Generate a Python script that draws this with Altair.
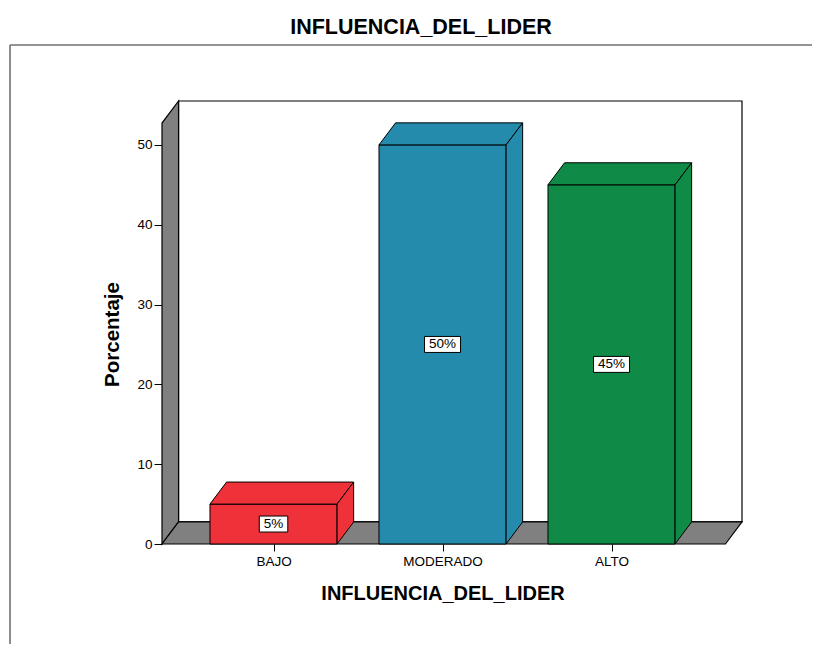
import altair as alt
import pandas as pd

# ---- data ----
categories = ["BAJO", "MODERADO", "ALTO"]
percentages = [5, 50, 45]
pct_labels = ["5%", "50%", "45%"]
front_colors = ["#EF323A", "#248BAC", "#0F8B47"]
dark_colors = ["#931F22", "#17566B", "#09542B"]
y_ticks = [0, 10, 20, 30, 40, 50]
chart_title = "INFLUENCIA_DEL_LIDER"
x_title = "INFLUENCIA_DEL_LIDER"
y_title = "Porcentaje"

# ---- geometry / style (pseudo-3D) ----
BAR_HALF = 0.376
DX = 0.098          # depth offset in x units
DY = 2.76           # depth offset in y units
WALL_LEFT = -0.66
FLOOR_RIGHT = 2.674
WALL_TOP = 52.74
X_MAX = FLOOR_RIGHT + DX
Y_MAX = WALL_TOP + DY
PX_PER_X = 580 / (X_MAX - WALL_LEFT)
PX_PER_Y = 443 / Y_MAX
FONT = "Liberation Sans"
WALL_GRAY = "#808080"
LABEL_SIZE = 13.5

xs = alt.Scale(domain=[WALL_LEFT, X_MAX], nice=False, zero=False)
ys = alt.Scale(domain=[0, Y_MAX], nice=False, zero=False)
col_scale = alt.Scale(domain=categories, range=front_colors)
dark_scale = alt.Scale(domain=categories, range=dark_colors)

label_expr = "[" + ",".join("'%s'" % c for c in categories) + "][datum.value]"

AX_X = alt.Axis(
    values=[0, 1, 2], labelExpr=label_expr, title=x_title, domain=False, grid=False,
    tickSize=7, tickColor="black", labelPadding=3, labelFont=FONT, labelFontSize=LABEL_SIZE,
    labelColor="black", titleFont=FONT, titleFontSize=20, titleFontWeight="bold",
    titleColor="black", titleX=280.5, titleY=49, titleBaseline="middle", titleAlign="center")
AX_Y = alt.Axis(
    values=y_ticks, title=y_title, domain=False, grid=False, tickSize=8, tickColor="black",
    labelPadding=2, labelFont=FONT, labelFontSize=LABEL_SIZE, labelColor="black",
    titleFont=FONT, titleFontSize=20.5, titleFontWeight="bold", titleColor="black",
    titleX=-50, titleY=233, titleAngle=270, titleBaseline="middle", titleAlign="center")

pos = {c: i for i, c in enumerate(categories)}

front = pd.DataFrame({
    "cat": categories,
    "x0": [pos[c] - BAR_HALF for c in categories],
    "x1": [pos[c] + BAR_HALF for c in categories],
    "y0": [0] * len(categories),
    "y1": percentages,
})

top_rows, side_rows = [], []
for c, v in zip(categories, percentages):
    i = pos[c]
    top_rows.append({"cat": c, "yy": v, "xa": i - BAR_HALF, "xb": i + BAR_HALF})
    top_rows.append({"cat": c, "yy": v + DY, "xa": i - BAR_HALF + DX, "xb": i + BAR_HALF + DX})
    side_rows.append({"cat": c, "xx": i + BAR_HALF, "ya": 0, "yb": v})
    side_rows.append({"cat": c, "xx": i + BAR_HALF + DX, "ya": DY, "yb": v + DY})
tops = pd.DataFrame(top_rows)
sides = pd.DataFrame(side_rows)

floor = pd.DataFrame({"yy": [0, DY], "xa": [WALL_LEFT, WALL_LEFT + DX], "xb": [FLOOR_RIGHT, X_MAX]})
lwall = pd.DataFrame({"xx": [WALL_LEFT, WALL_LEFT + DX], "ya": [0, DY], "yb": [WALL_TOP, Y_MAX]})
bwall = pd.DataFrame({"x0": [WALL_LEFT + DX], "x1": [X_MAX], "y0": [DY], "y1": [Y_MAX]})


def text_w(s, size=LABEL_SIZE):
    w = {"%": 0.889}
    return sum(w.get(ch, 0.556) for ch in s) * size


boxes = pd.DataFrame({
    "cat": categories,
    "lab": pct_labels,
    "xc": [pos[c] for c in categories],
    "yc": [v / 2 for v in percentages],
    "bx0": [pos[c] - (text_w(l) + 9) / 2 / PX_PER_X for c, l in zip(categories, pct_labels)],
    "bx1": [pos[c] + (text_w(l) + 9) / 2 / PX_PER_X for c, l in zip(categories, pct_labels)],
    "by0": [v / 2 - 8 / PX_PER_Y for v in percentages],
    "by1": [v / 2 + 8 / PX_PER_Y for v in percentages],
})

back_layer = alt.Chart(bwall).mark_rect(fill="white", stroke="black", strokeWidth=1.2).encode(
    x=alt.X("x0:Q", scale=xs, axis=AX_X), x2="x1:Q",
    y=alt.Y("y0:Q", scale=ys, axis=AX_Y), y2="y1:Q")

lwall_layer = alt.Chart(lwall).mark_area(orient="vertical", fill=WALL_GRAY, stroke="black", strokeWidth=1.2).encode(
    x=alt.X("xx:Q", scale=xs, axis=AX_X),
    y=alt.Y("ya:Q", scale=ys, axis=AX_Y, stack=False), y2="yb:Q")

floor_layer = alt.Chart(floor).mark_area(orient="horizontal", fill=WALL_GRAY, stroke="black", strokeWidth=1.2).encode(
    y=alt.Y("yy:Q", scale=ys, axis=AX_Y),
    x=alt.X("xa:Q", scale=xs, axis=AX_X, stack=False), x2="xb:Q")

front_layer = alt.Chart(front).mark_rect(stroke="black", strokeWidth=1).encode(
    x=alt.X("x0:Q", scale=xs, axis=AX_X), x2="x1:Q",
    y=alt.Y("y0:Q", scale=ys, axis=AX_Y), y2="y1:Q",
    fill=alt.Fill("cat:N", scale=col_scale, legend=None))

top_layer = alt.Chart(tops).mark_area(orient="horizontal", stroke="black", strokeWidth=1).encode(
    y=alt.Y("yy:Q", scale=ys, axis=AX_Y),
    x=alt.X("xa:Q", scale=xs, axis=AX_X, stack=False), x2="xb:Q",
    fill=alt.Fill("cat:N", scale=dark_scale, legend=None),
    detail="cat:N")

side_layer = alt.Chart(sides).mark_area(orient="vertical", stroke="black", strokeWidth=1).encode(
    x=alt.X("xx:Q", scale=xs, axis=AX_X),
    y=alt.Y("ya:Q", scale=ys, axis=AX_Y, stack=False), y2="yb:Q",
    fill=alt.Fill("cat:N", scale=dark_scale, legend=None),
    detail="cat:N")

box_layer = alt.Chart(boxes).mark_rect(fill="white", stroke="black", strokeWidth=1).encode(
    x=alt.X("bx0:Q", scale=xs, axis=AX_X), x2="bx1:Q",
    y=alt.Y("by0:Q", scale=ys, axis=AX_Y), y2="by1:Q")

text_layer = alt.Chart(boxes).mark_text(font=FONT, fontSize=LABEL_SIZE, color="black", baseline="middle").encode(
    x=alt.X("xc:Q", scale=xs, axis=AX_X),
    y=alt.Y("yc:Q", scale=ys, axis=AX_Y),
    text="lab:N")

frame_top = alt.Chart(pd.DataFrame({"a": [0]})).mark_rule(color="#707070", strokeWidth=1.6).encode(
    x=alt.value(-152), x2=alt.value(660), y=alt.value(-56))
frame_left = alt.Chart(pd.DataFrame({"a": [0]})).mark_rule(color="#707070", strokeWidth=1.6).encode(
    x=alt.value(-152), y=alt.value(-56), y2=alt.value(560))

title_layer = alt.Chart(pd.DataFrame({"t": [chart_title]})).mark_text(
    font=FONT, fontSize=21.5, fontWeight="bold", color="black", baseline="middle", align="center").encode(
    x=alt.value(259), y=alt.value(-73), text="t:N")

chart = alt.layer(
    back_layer, lwall_layer, floor_layer, front_layer, top_layer, side_layer,
    box_layer, text_layer, frame_top, frame_left, title_layer
).properties(
    width=580, height=443,
    autosize=alt.AutoSizeParams(type="none"),
    padding={"left": 154, "top": 93, "right": 70, "bottom": 100},
    background="white",
).configure_view(strokeWidth=0)

chart.save("out.html", embed_options={"renderer": "svg", "actions": False})
